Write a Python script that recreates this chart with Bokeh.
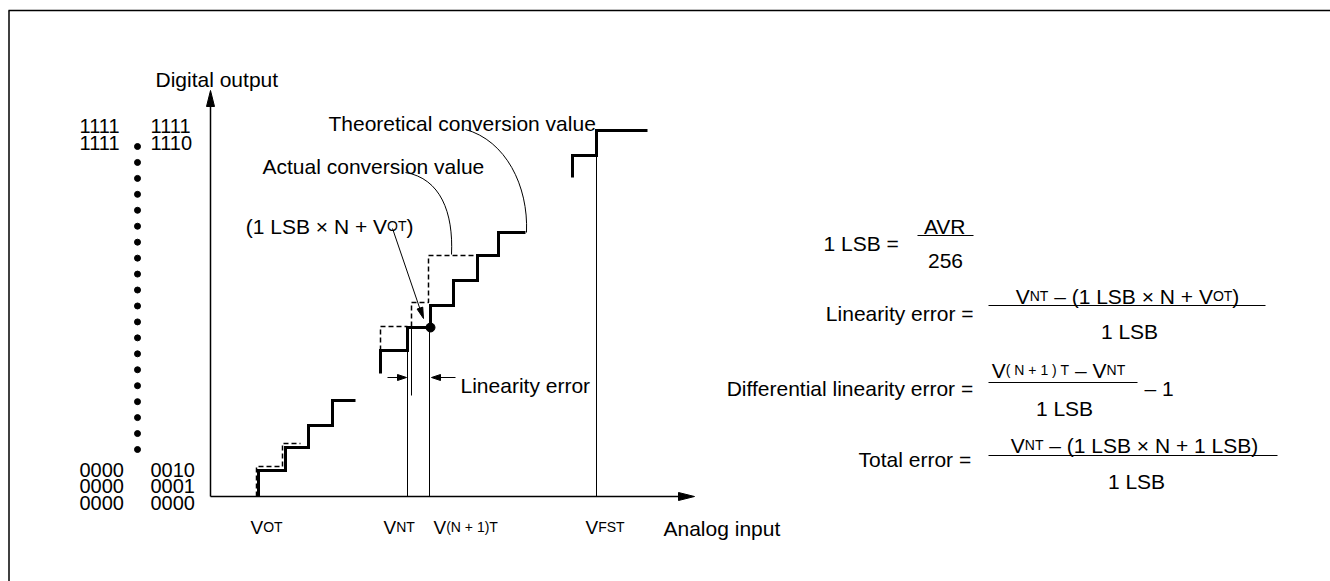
from bokeh.plotting import figure
from bokeh.models import Range1d, ColumnDataSource
from bokeh.embed import file_html
from bokeh.resources import INLINE
from bokeh.core.properties import value

# ---------------- data (diagram coordinates) ----------------
# Actual conversion value (thick staircases)
act_low_x = [258, 258, 285, 285, 308, 308, 332, 332, 355]
act_low_y = [496, 470, 470, 447, 447, 425, 425, 400, 400]
act_mid_x = [380, 380, 407, 407, 430, 430, 453, 453, 477, 477, 498, 498, 525]
act_mid_y = [373, 350, 350, 327, 327, 305, 305, 280, 280, 255, 255, 232, 232]
act_top_x = [572, 572, 596, 596, 647]
act_top_y = [177, 155, 155, 130, 130]
# Theoretical conversion value (dashed)
th_low_x = [256, 256, 282, 282, 300]
th_low_y = [496, 466, 466, 443, 443]
th_mid1_x = [380, 380, 407]
th_mid1_y = [350, 326, 326]
th_mid2_x = [411, 411, 428, 428, 477]
th_mid2_y = [326, 302, 302, 255, 255]
# thin vertical guide lines
guide_x = [407, 411, 429, 596]
guide_top = [350, 327, 327, 155]
guide_bot = [496, 395, 496, 496]
# code labels
codes_top_left = ["1111", "1111"]
codes_top_right = ["1111", "1110"]
codes_top_y = [118, 135]
codes_bot_left = ["0000", "0000", "0000"]
codes_bot_right = ["0010", "0001", "0000"]
codes_bot_y = [462, 478.5, 495]
dots_n = 20
dots_first, dots_last = 146, 449
# x-axis labels: (x, subscript)
xlabels_x = [250, 383, 433, 585]
xlabels_sub = ["OT", "NT", "(N + 1)T", "FST"]

# ---------------- figure ----------------
W, H = 1330, 581
p = figure(width=W, height=H, x_range=Range1d(0, W), y_range=Range1d(H, 0),
           output_backend="svg", toolbar_location=None, min_border=0,
           x_axis_type=None, y_axis_type=None)
p.grid.visible = False
p.outline_line_color = None
p.background_fill_color = "white"
p.border_fill_color = "white"

INK = "#000000"
FONT = "Liberation Sans"

# frame
p.segment(x0=[8, 8.5], y0=[10, 10], x1=[W, 8.5], y1=[10, H], line_color=INK, line_width=1.5)

# axes
ORX, ORY = 210, 496
p.segment(x0=[ORX, ORX], y0=[ORY, ORY], x1=[680, ORX], y1=[ORY, 103], line_color=INK, line_width=1.5)

# arrowheads
def tri(tip, tail, L, w):
    dx, dy = tip[0] - tail[0], tip[1] - tail[1]
    n = (dx * dx + dy * dy) ** 0.5
    ux, uy = dx / n, dy / n
    bx, by = tip[0] - ux * L, tip[1] - uy * L
    px, py = -uy, ux
    return ([tip[0], bx + px * w / 2, bx - px * w / 2], [tip[1], by + py * w / 2, by - py * w / 2])

heads = [
    ((ORX, 90), (ORX, 200), 16, 8),
    ((694, ORY), (600, ORY), 16, 8),
    ((406, 377), (387, 377), 9, 6),
    ((431, 377), (455, 377), 9, 6),
    ((423, 318), (392, 228), 11, 6),
]
hx, hy = [], []
for tip, tail, L, w in heads:
    a, b = tri(tip, tail, L, w)
    hx.append(a); hy.append(b)
p.patches(hx, hy, fill_color=INK, line_color=INK, line_width=1)

# arrow shafts
p.segment(x0=[387, 455, 392], y0=[377, 377, 228], x1=[400, 440, 420], y1=[377, 377, 310],
          line_color=INK, line_width=1)

# thin guide lines
p.segment(x0=guide_x, y0=guide_top, x1=guide_x, y1=guide_bot, line_color=INK, line_width=1)

# theoretical (dashed)
p.multi_line([th_low_x, th_mid1_x, th_mid2_x], [th_low_y, th_mid1_y, th_mid2_y],
             line_color=INK, line_width=1.5, line_dash="5 3")
# actual (thick)
p.multi_line([act_low_x, act_mid_x, act_top_x], [act_low_y, act_mid_y, act_top_y],
             line_color=INK, line_width=3, line_join="miter")

# conversion point
p.scatter(x=[430], y=[327], size=9, marker="circle", fill_color=INK, line_color=INK)

# leader curves
p.bezier(x0=[405, 465], y0=[172, 129], x1=[451, 526], y1=[254, 232],
         cx0=[440, 505], cy0=[178, 140], cx1=[453, 528], cy1=[212, 185],
         line_color=INK, line_width=1)

# vertical dots
step = (dots_last - dots_first) / (dots_n - 1)
p.scatter(x=[137] * dots_n, y=[dots_first + i * step for i in range(dots_n)], size=6,
          marker="circle", fill_color=INK, line_color=INK)

# ---------------- text ----------------
AW = {' ': 278, '(': 333, ')': 333, '+': 584, '–': 556, '×': 584, '=': 584,
      '0': 556, '1': 556, '2': 556, '5': 556, '6': 556,
      'A': 667, 'B': 667, 'D': 722, 'F': 611, 'L': 556, 'N': 722, 'O': 778, 'R': 722,
      'S': 667, 'T': 611, 'V': 667,
      'a': 556, 'c': 500, 'e': 556, 'f': 278, 'g': 556, 'h': 556, 'i': 222, 'l': 222,
      'n': 556, 'o': 556, 'p': 556, 'r': 333, 's': 500, 't': 278, 'u': 556, 'v': 500, 'y': 500}

def tw(s, size):
    return sum(AW.get(c, 556) for c in s) / 1000.0 * size

tx, ty, tt, ts = [], [], [], []

def rich(x, cy, segs, align="left", main=21):
    base = cy + 0.358 * main
    total = sum(tw(t, s) for t, s in segs)
    x0 = x if align == "left" else (x - total / 2 if align == "center" else x - total)
    for t, s in segs:
        lead = len(t) - len(t.lstrip(' '))
        st = t.strip(' ')
        if st:
            tx.append(x0 + tw(' ' * lead, s)); ty.append(base); tt.append(st); ts.append(f"{s}px")
        x0 += tw(t, s)

S, s = 21, 14
rich(155, 71, [("Digital output", S)])
for i, cy in enumerate(codes_top_y):
    rich(79, cy, [(codes_top_left[i], 20)], main=20)
    rich(150, cy, [(codes_top_right[i], 20)], main=20)
for i, cy in enumerate(codes_bot_y):
    rich(79, cy, [(codes_bot_left[i], 20)], main=20)
    rich(150, cy, [(codes_bot_right[i], 20)], main=20)

rich(328, 115, [("Theoretical conversion value", S)])
rich(262, 158, [("Actual conversion value", S)])
rich(413, 218, [("(1 LSB × N + ", S), ("V", S), ("OT", s), (")", S)], align="right")
rich(460, 377, [("Linearity error", S)])

for xl, sub in zip(xlabels_x, xlabels_sub):
    rich(xl, 520, [("V", 19), (sub, s)], main=19)
rich(663, 520, [("Analog input", S)])

# formulas
rich(823, 235, [("1 LSB =", S)])
rich(945, 218, [("AVR", S)], align="center")
rich(945, 253, [("256", S)], align="center")

rich(973, 305, [("Linearity error =", S)], align="right")
rich(1127, 288, [("V", S), ("NT", s), (" – (1 LSB × N + ", S), ("V", S), ("OT", s), (")", S)], align="center")
rich(1129, 323, [("1 LSB", S)], align="center")

rich(973, 380, [("Differential linearity error =", S)], align="right")
rich(1058, 362, [("V", S), ("( N + 1 ) T", s), (" – ", S), ("V", S), ("NT", s)], align="center")
rich(1064, 400, [("1 LSB", S)], align="center")
rich(1144, 380, [("– 1", S)])

rich(973, 451, [("Total error =", S)], align="right")
rich(1134, 437, [("V", S), ("NT", s), (" – (1 LSB × N + 1 LSB)", S)], align="center")
rich(1136, 473, [("1 LSB", S)], align="center")

p.text(x="x", y="y", text="text", text_font_size="size",
       source=ColumnDataSource(dict(x=tx, y=ty, text=tt, size=ts)),
       text_align="left", text_baseline="alphabetic", text_color=INK,
       text_font=value(FONT))

# fraction bars
p.segment(x0=[917, 988, 988, 988], y0=[235, 305, 382, 455], x1=[973, 1265, 1137, 1277],
          y1=[235, 305, 382, 455], line_color=INK, line_width=1.2)

open("out.html", "w").write(file_html(p, INLINE))
